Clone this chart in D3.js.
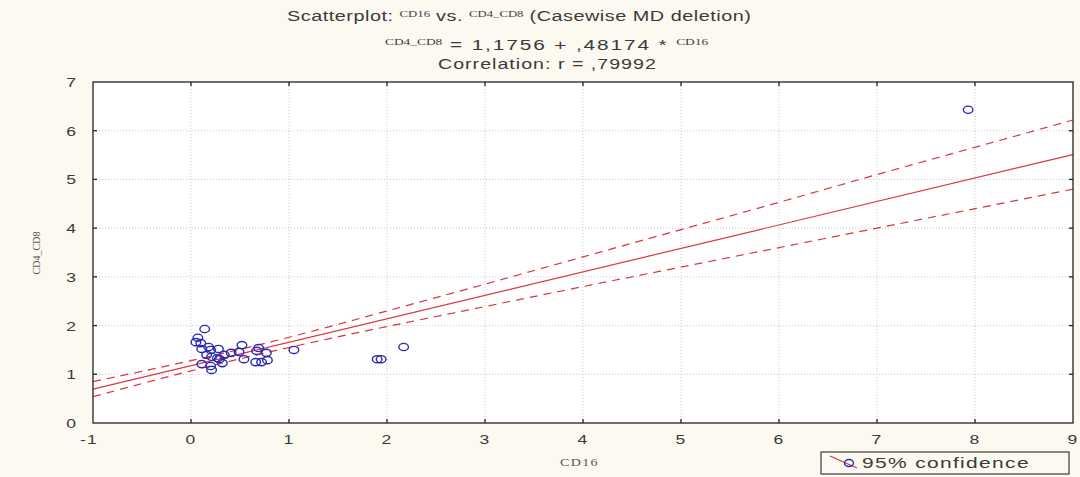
<!DOCTYPE html>
<html>
<head>
<meta charset="utf-8">
<script src="https://cdn.jsdelivr.net/npm/d3@7"></script>
<style>
  html, body { margin: 0; padding: 0; background: #fcf9f1; }
  svg { display: block; }
</style>
</head>
<body>
<div id="chart"></div>
<script>
// Scatterplot CD16 vs CD4_CD8 with regression line and 95% confidence band

const cd16 = [0.14, 0.07, 0.05, 0.10, 0.11, 0.18, 0.20, 0.28, 0.16, 0.21, 0.27, 0.32, 0.11, 0.20,
              0.21, 0.41, 0.49, 0.52, 0.54, 0.67, 0.69, 0.66, 0.72, 0.78, 0.77, 1.05, 0.34, 0.29,
              1.90, 1.94, 2.17, 7.93];
const cd4cd8 = [1.93, 1.75, 1.66, 1.64, 1.52, 1.56, 1.50, 1.52, 1.40, 1.36, 1.33, 1.23, 1.21, 1.17,
                1.09, 1.44, 1.46, 1.60, 1.31, 1.48, 1.54, 1.25, 1.25, 1.29, 1.44, 1.50, 1.40, 1.31,
                1.31, 1.31, 1.56, 6.43];

const intercept = 1.1756, slope = 0.48174;

// confidence band at integer x
const bandX = [-1, 0, 1, 2, 3, 4, 5, 6, 7, 8, 9];
const bandUpper = [0.85, 1.28, 1.76, 2.30, 2.85, 3.41, 3.97, 4.53, 5.10, 5.66, 6.22];
const bandLower = [0.54, 1.07, 1.55, 1.98, 2.39, 2.80, 3.20, 3.60, 4.00, 4.40, 4.80];

const xTicks = [-1, 0, 1, 2, 3, 4, 5, 6, 7, 8, 9];
const yTicks = [0, 1, 2, 3, 4, 5, 6, 7];

const W = 1080, H = 477;
const m = { left: 93, right: 7, top: 82, bottom: 54 };

const svg = d3.select('#chart').append('svg')
    .attr('width', W).attr('height', H)
    .style('background', '#fcf9f1');

const x = d3.scaleLinear().domain([-1, 9]).range([m.left, W - m.right]);
const y = d3.scaleLinear().domain([0, 7]).range([H - m.bottom, m.top]);

const sans = '"Liberation Sans", Arial, sans-serif';
const serif = '"Liberation Serif", "Times New Roman", serif';
const red = '#d9363e', blue = '#2a2ab0', ink = '#3a3a3a';

// widen a text so it spans x0..x1: mostly glyph stretch, the rest as letter spacing
function fitText(el, x0, x1, yb, s = 1.4) {
    el.attr('x', 0).attr('y', 0);
    const w = el.node().getBBox().width;
    const n = el.text().length;
    el.attr('letter-spacing', Math.max(0, ((x1 - x0) / s - w) / n));
    el.selectAll('tspan.sup').attr('letter-spacing', 0);
    const w2 = el.node().getBBox().width;
    el.attr('transform', `translate(${x0},${yb}) scale(${(x1 - x0) / w2},1)`);
}

// plot area
svg.append('rect')
    .attr('x', x(-1)).attr('y', y(7))
    .attr('width', x(9) - x(-1)).attr('height', y(0) - y(7))
    .attr('fill', '#ffffff');

// grid
const grid = svg.append('g');
xTicks.slice(1, -1).forEach(t => {
    grid.append('line')
        .attr('x1', x(t)).attr('x2', x(t)).attr('y1', y(0)).attr('y2', y(7))
        .attr('stroke', '#c9c9c9').attr('stroke-width', 1).attr('stroke-dasharray', '1,2');
});
yTicks.slice(1, -1).forEach(t => {
    grid.append('line')
        .attr('x1', x(-1)).attr('x2', x(9)).attr('y1', y(t)).attr('y2', y(t))
        .attr('stroke', '#c9c9c9').attr('stroke-width', 1).attr('stroke-dasharray', '1,2');
});

// regression line and band
svg.append('clipPath').attr('id', 'plotclip').append('rect')
    .attr('x', x(-1)).attr('y', y(7))
    .attr('width', x(9) - x(-1)).attr('height', y(0) - y(7));

const lines = svg.append('g').attr('clip-path', 'url(#plotclip)');
lines.append('line')
    .attr('x1', x(-1)).attr('y1', y(intercept + slope * -1))
    .attr('x2', x(9)).attr('y2', y(intercept + slope * 9))
    .attr('stroke', red).attr('stroke-width', 1.2);

const bandLine = vals => d3.line()
    .x((d, i) => x(bandX[i])).y(d => y(d))
    .curve(d3.curveNatural)(vals);

[bandUpper, bandLower].forEach(b => {
    lines.append('path')
        .attr('d', bandLine(b))
        .attr('fill', 'none').attr('stroke', red)
        .attr('stroke-width', 1.2).attr('stroke-dasharray', '8,6');
});

// points (drawn as slightly wide ellipses, like the stretched original)
svg.append('g').selectAll('ellipse')
    .data(cd16.map((v, i) => [v, cd4cd8[i]]))
    .join('ellipse')
    .attr('cx', d => x(d[0])).attr('cy', d => y(d[1]))
    .attr('rx', 4.8).attr('ry', 3.6)
    .attr('fill', 'none').attr('stroke', blue).attr('stroke-width', 1.4);

// frame
svg.append('rect')
    .attr('x', x(-1)).attr('y', y(7))
    .attr('width', x(9) - x(-1)).attr('height', y(0) - y(7))
    .attr('fill', 'none').attr('stroke', '#222').attr('stroke-width', 1.3);

// inward ticks on all sides
const tickG = svg.append('g').attr('stroke', '#222').attr('stroke-width', 1.3);
xTicks.slice(1, -1).forEach(t => {
    tickG.append('line').attr('x1', x(t)).attr('x2', x(t)).attr('y1', y(0)).attr('y2', y(0) - 4);
    tickG.append('line').attr('x1', x(t)).attr('x2', x(t)).attr('y1', y(7)).attr('y2', y(7) + 4);
});
yTicks.slice(1, -1).forEach(t => {
    tickG.append('line').attr('x1', x(-1)).attr('x2', x(-1) + 4).attr('y1', y(t)).attr('y2', y(t));
    tickG.append('line').attr('x1', x(9)).attr('x2', x(9) - 4).attr('y1', y(t)).attr('y2', y(t));
});

// tick labels
svg.append('g').selectAll('text')
    .data(xTicks).join('text')
    .attr('transform', d => `translate(${x(d) - (d < 0 ? 4 : 0)},${y(0) + 21}) scale(1.3,1)`)
    .attr('text-anchor', 'middle').attr('letter-spacing', 1)
    .attr('font-family', sans).attr('font-size', 13.5).attr('fill', ink)
    .text(d => d);
svg.append('g').selectAll('text')
    .data(yTicks).join('text')
    .attr('transform', d => `translate(${x(-1) - 17},${y(d) + 5}) scale(1.3,1)`)
    .attr('text-anchor', 'end')
    .attr('font-family', sans).attr('font-size', 13.5).attr('fill', ink)
    .text(d => d);

// axis titles
fitText(svg.append('text')
    .attr('font-family', serif).attr('font-size', 10).attr('fill', '#555')
    .text('CD16'), 560, 599, 466);
svg.append('text')
    .attr('transform', 'translate(40,253) rotate(-90)')
    .attr('text-anchor', 'middle')
    .attr('font-family', serif).attr('font-size', 10).attr('fill', '#555')
    .text('CD4_CD8');

// titles
const sup = (t, s, dy) => t.append('tspan').attr('class', 'sup')
    .attr('font-family', serif).attr('font-size', 9).attr('dy', dy).text(s);

const t1 = svg.append('text')
    .attr('font-family', sans).attr('font-size', 14).attr('fill', ink);
t1.append('tspan').text('Scatterplot: ');
sup(t1, 'CD16', -4);
t1.append('tspan').attr('dy', 4).text(' vs. ');
sup(t1, 'CD4_CD8', -4);
t1.append('tspan').attr('dy', 4).text(' (Casewise MD deletion)');
fitText(t1, 287, 752, 21);

const t2 = svg.append('text')
    .attr('font-family', sans).attr('font-size', 14).attr('fill', ink);
sup(t2, 'CD4_CD8', -5);
t2.append('tspan').attr('dy', 5).text(' = 1,1756 + ,48174 * ');
sup(t2, 'CD16', -5);
fitText(t2, 385, 709, 50);

fitText(svg.append('text')
    .attr('font-family', sans).attr('font-size', 14).attr('fill', ink)
    .text('Correlation: r = ,79992'), 438, 657, 69);

// legend
const lg = svg.append('g');
lg.append('rect').attr('x', 821).attr('y', 452).attr('width', 248).attr('height', 22)
    .attr('fill', '#fcf9f1').attr('stroke', ink).attr('stroke-width', 1.2);
lg.append('line').attr('x1', 830).attr('y1', 456).attr('x2', 857).attr('y2', 468)
    .attr('stroke', red).attr('stroke-width', 1.2);
lg.append('ellipse').attr('cx', 849).attr('cy', 463).attr('rx', 4.5).attr('ry', 3.5)
    .attr('fill', 'none').attr('stroke', blue).attr('stroke-width', 1.4);
fitText(lg.append('text')
    .attr('font-family', sans).attr('font-size', 15).attr('fill', ink)
    .text('95% confidence'), 862, 1030, 468);
</script>
</body>
</html>
